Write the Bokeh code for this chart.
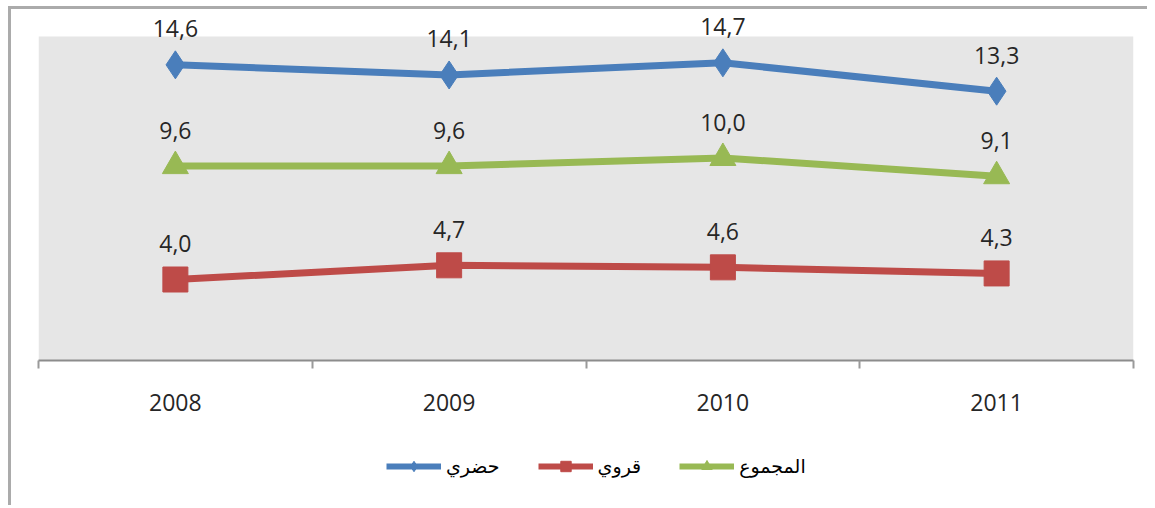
from bokeh.plotting import figure
from bokeh.models import Range1d, FixedTicker, Legend, LegendItem, ColumnDataSource, BoxAnnotation
from bokeh.layouts import column
from bokeh.core.properties import value
from bokeh.embed import file_html
from bokeh.resources import INLINE

years = ["2008", "2009", "2010", "2011"]
urban = [14.6, 14.1, 14.7, 13.3]   # حضري
rural = [4.0, 4.7, 4.6, 4.3]       # قروي
total = [9.6, 9.6, 10.0, 9.1]      # المجموع
series_names = ["حضري", "قروي", "المجموع"]

xs = [i + 0.5 for i in range(len(years))]
bounds = list(range(len(years) + 1))
y_max = 16

p = figure(width=1136, height=416, output_backend="svg", toolbar_location=None,
           x_range=Range1d(0, len(years)), y_range=Range1d(0, 17.235),
           min_border_left=27, min_border_right=14, min_border_top=2, min_border_bottom=65)
p.background_fill_color = "white"
p.border_fill_color = "white"
p.outline_line_color = None
p.xgrid.visible = False
p.ygrid.visible = False
p.yaxis.visible = False
p.add_layout(BoxAnnotation(bottom=0, top=y_max, fill_color="#e6e6e6", fill_alpha=1,
                           line_color=None, level="underlay"))

ax = p.xaxis[0]
ax.ticker = FixedTicker(ticks=xs, minor_ticks=bounds)
ax.major_label_overrides = {x: y for x, y in zip(xs, years)}
ax.major_tick_out = 0
ax.major_tick_in = 0
ax.minor_tick_out = 8
ax.minor_tick_in = 0
ax.minor_tick_line_color = "#9a9a9a"
ax.minor_tick_line_width = 2
ax.axis_line_color = "#8c8c8c"
ax.axis_line_width = 2
ax.major_label_standoff = 25
ax.major_label_text_font = "Open Sans"
ax.major_label_text_font_size = "23px"
ax.major_label_text_color = "#262626"

colors = ["#4a7ebb", "#be4b48", "#98b954"]
markers = ["diamond", "square", "triangle"]
sizes = [28, 25, 26]

# legend figure
pl = figure(width=1136, height=80, output_backend="svg", toolbar_location=None,
            x_range=Range1d(0, 1), y_range=Range1d(0, 1),
            min_border=0, min_border_left=0, min_border_right=0, min_border_top=0, min_border_bottom=0)
pl.axis.visible = False
pl.grid.visible = False
pl.outline_line_color = None
pl.background_fill_color = "white"
pl.border_fill_color = "white"

items = []
for vals, name, col, mk, sz in zip([urban, rural, total], series_names, colors, markers, sizes):
    src = ColumnDataSource(dict(x=xs, y=vals, lab=[f"{v:.1f}".replace(".", ",") for v in vals]))
    p.line("x", "y", source=src, line_color=col, line_width=7)
    p.scatter("x", "y", source=src, marker=mk, size=sz, fill_color=col, line_color=col)
    p.text("x", "y", text="lab", source=src, text_align="center", text_baseline="middle",
           y_offset=-36, text_font=value("Open Sans"), text_font_size="23px", text_color="#262626")
    e = ColumnDataSource(dict(x=[float("nan")], y=[float("nan")]))
    l1 = pl.line("x", "y", source=e, line_color=col, line_width=6)
    l2 = pl.scatter("x", "y", source=e, marker=mk, size=sz, fill_color=col, line_color=col)
    items.append(LegendItem(label=name, renderers=[l1, l2]))

legend = Legend(items=items, orientation="horizontal", location=(348, 26),
                glyph_width=55, glyph_height=26, label_standoff=5, spacing=38,
                label_text_font="DejaVu Sans", label_text_font_size="19px",
                label_text_color="#000000", border_line_color=None,
                background_fill_alpha=0, margin=0, padding=6)
pl.add_layout(legend, "center")

layout = column(p, pl, spacing=0)
layout.styles = {"border-top": "3px solid #ababab", "border-left": "3px solid #ababab",
                 "margin-left": "8px", "margin-top": "6px"}

open("out.html", "w").write(file_html(layout, INLINE))
